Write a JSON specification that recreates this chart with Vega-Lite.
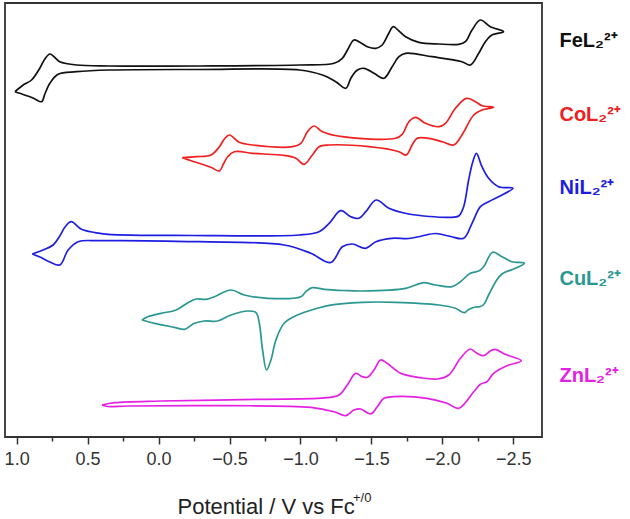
{
"$schema": "https://vega.github.io/schema/vega-lite/v6.json",
"width": 537, "height": 434,
"autosize": {"type": "none"},
"padding": {"left": 5, "top": 3, "right": 88, "bottom": 82},
"background": "white",
"config": {"view": {"stroke": "#333333", "strokeWidth": 1.8}, "font": "Liberation Sans"},
"datasets": {
"cv": [
{"complex":"Fe","potential":1.012,"current":345.3},{"complex":"Fe","potential":0.954,"current":352},{"complex":"Fe","potential":0.895,"current":357},{"complex":"Fe","potential":0.836,"current":369},{"complex":"Fe","potential":0.801,"current":378},{"complex":"Fe","potential":0.766,"current":383},{"complex":"Fe","potential":0.731,"current":379.5},{"complex":"Fe","potential":0.696,"current":375.3},{"complex":"Fe","potential":0.578,"current":372},{"complex":"Fe","potential":0.344,"current":371},{"complex":"Fe","potential":-0.288,"current":371},{"complex":"Fe","potential":-0.991,"current":372},{"complex":"Fe","potential":-1.237,"current":373.7},{"complex":"Fe","potential":-1.295,"current":378.7},{"complex":"Fe","potential":-1.335,"current":388},{"complex":"Fe","potential":-1.377,"current":397},{"complex":"Fe","potential":-1.427,"current":394},{"complex":"Fe","potential":-1.476,"current":390},{"complex":"Fe","potential":-1.530,"current":388.7},{"complex":"Fe","potential":-1.576,"current":392},{"complex":"Fe","potential":-1.616,"current":402},{"complex":"Fe","potential":-1.654,"current":410.3},{"complex":"Fe","potential":-1.694,"current":406},{"complex":"Fe","potential":-1.741,"current":400.3},{"complex":"Fe","potential":-1.834,"current":394.7},{"complex":"Fe","potential":-1.975,"current":393},{"complex":"Fe","potential":-2.115,"current":392.7},{"complex":"Fe","potential":-2.162,"current":395.3},{"complex":"Fe","potential":-2.209,"current":407},{"complex":"Fe","potential":-2.268,"current":417},{"complex":"Fe","potential":-2.338,"current":410.3},{"complex":"Fe","potential":-2.431,"current":405.3},
{"complex":"Fe","potential":-2.349,"current":402},{"complex":"Fe","potential":-2.303,"current":395.3},{"complex":"Fe","potential":-2.256,"current":383.7},{"complex":"Fe","potential":-2.197,"current":372},{"complex":"Fe","potential":-2.138,"current":375.3},{"complex":"Fe","potential":-1.928,"current":380.3},{"complex":"Fe","potential":-1.741,"current":383.7},{"complex":"Fe","potential":-1.694,"current":380.3},{"complex":"Fe","potential":-1.646,"current":370.3},{"complex":"Fe","potential":-1.588,"current":358.7},{"complex":"Fe","potential":-1.518,"current":363.7},{"complex":"Fe","potential":-1.448,"current":368.7},{"complex":"Fe","potential":-1.401,"current":367},{"complex":"Fe","potential":-1.356,"current":359},{"complex":"Fe","potential":-1.319,"current":348.7},{"complex":"Fe","potential":-1.249,"current":355.3},{"complex":"Fe","potential":-1.155,"current":362},{"complex":"Fe","potential":-0.991,"current":367},{"complex":"Fe","potential":-0.288,"current":367.5},{"complex":"Fe","potential":0.344,"current":367},{"complex":"Fe","potential":0.578,"current":365.3},{"complex":"Fe","potential":0.708,"current":362.7},{"complex":"Fe","potential":0.766,"current":353.7},{"complex":"Fe","potential":0.801,"current":343},{"complex":"Fe","potential":0.824,"current":335.3},{"complex":"Fe","potential":0.871,"current":338},{"complex":"Fe","potential":0.907,"current":340.3},{"complex":"Fe","potential":0.977,"current":343.7},{"complex":"Fe","potential":1.012,"current":345.3},
{"complex":"Co","potential":-0.167,"current":279.3},{"complex":"Co","potential":-0.265,"current":280.3},{"complex":"Co","potential":-0.370,"current":282},{"complex":"Co","potential":-0.429,"current":290.3},{"complex":"Co","potential":-0.464,"current":298},{"complex":"Co","potential":-0.499,"current":302},{"complex":"Co","potential":-0.569,"current":294.7},{"complex":"Co","potential":-0.663,"current":292},{"complex":"Co","potential":-0.944,"current":290.3},{"complex":"Co","potential":-1.003,"current":293.7},{"complex":"Co","potential":-1.049,"current":305.3},{"complex":"Co","potential":-1.096,"current":311},{"complex":"Co","potential":-1.155,"current":305.3},{"complex":"Co","potential":-1.295,"current":300.3},{"complex":"Co","potential":-1.670,"current":298.7},{"complex":"Co","potential":-1.717,"current":302.7},{"complex":"Co","potential":-1.764,"current":315.3},{"complex":"Co","potential":-1.811,"current":319.7},{"complex":"Co","potential":-1.881,"current":313.7},{"complex":"Co","potential":-1.975,"current":310.3},{"complex":"Co","potential":-2.022,"current":313.7},{"complex":"Co","potential":-2.092,"current":328.7},{"complex":"Co","potential":-2.169,"current":338.7},{"complex":"Co","potential":-2.233,"current":335.3},{"complex":"Co","potential":-2.279,"current":331.3},{"complex":"Co","potential":-2.361,"current":329.7},
{"complex":"Co","potential":-2.279,"current":327},{"complex":"Co","potential":-2.221,"current":322},{"complex":"Co","potential":-2.138,"current":302},{"complex":"Co","potential":-2.080,"current":292},{"complex":"Co","potential":-1.998,"current":295.3},{"complex":"Co","potential":-1.904,"current":298.7},{"complex":"Co","potential":-1.822,"current":298.7},{"complex":"Co","potential":-1.787,"current":292},{"complex":"Co","potential":-1.745,"current":282},{"complex":"Co","potential":-1.694,"current":285.3},{"complex":"Co","potential":-1.483,"current":290.3},{"complex":"Co","potential":-1.202,"current":292},{"complex":"Co","potential":-1.131,"current":290.3},{"complex":"Co","potential":-1.084,"current":282},{"complex":"Co","potential":-1.026,"current":272.7},{"complex":"Co","potential":-0.968,"current":278.7},{"complex":"Co","potential":-0.897,"current":281.3},{"complex":"Co","potential":-0.663,"current":283.7},{"complex":"Co","potential":-0.534,"current":285.3},{"complex":"Co","potential":-0.487,"current":280.3},{"complex":"Co","potential":-0.457,"current":273},{"complex":"Co","potential":-0.429,"current":266},{"complex":"Co","potential":-0.372,"current":269.5},{"complex":"Co","potential":-0.323,"current":272},{"complex":"Co","potential":-0.230,"current":276.3},{"complex":"Co","potential":-0.167,"current":279.3},
{"complex":"Ni","potential":0.890,"current":183},{"complex":"Ni","potential":0.813,"current":187},{"complex":"Ni","potential":0.743,"current":192},{"complex":"Ni","potential":0.696,"current":201},{"complex":"Ni","potential":0.654,"current":211},{"complex":"Ni","potential":0.615,"current":215.3},{"complex":"Ni","potential":0.543,"current":207.7},{"complex":"Ni","potential":0.450,"current":204.5},{"complex":"Ni","potential":0.356,"current":202.7},{"complex":"Ni","potential":-0.230,"current":201.5},{"complex":"Ni","potential":-0.991,"current":202},{"complex":"Ni","potential":-1.131,"current":205.3},{"complex":"Ni","potential":-1.202,"current":213.7},{"complex":"Ni","potential":-1.284,"current":226.3},{"complex":"Ni","potential":-1.354,"current":220.3},{"complex":"Ni","potential":-1.412,"current":218.7},{"complex":"Ni","potential":-1.460,"current":225.3},{"complex":"Ni","potential":-1.534,"current":237},{"complex":"Ni","potential":-1.623,"current":228.7},{"complex":"Ni","potential":-1.764,"current":223},{"complex":"Ni","potential":-2.045,"current":219.7},{"complex":"Ni","potential":-2.115,"current":221},{"complex":"Ni","potential":-2.150,"current":230.3},{"complex":"Ni","potential":-2.185,"current":257},{"complex":"Ni","potential":-2.214,"current":275},{"complex":"Ni","potential":-2.240,"current":283.7},{"complex":"Ni","potential":-2.279,"current":270.3},{"complex":"Ni","potential":-2.326,"current":258.7},{"complex":"Ni","potential":-2.396,"current":250.3},{"complex":"Ni","potential":-2.497,"current":248.7},
{"complex":"Ni","potential":-2.420,"current":242},{"complex":"Ni","potential":-2.326,"current":235.3},{"complex":"Ni","potential":-2.268,"current":230.3},{"complex":"Ni","potential":-2.209,"current":213.7},{"complex":"Ni","potential":-2.150,"current":198.7},{"complex":"Ni","potential":-2.059,"current":200.5},{"complex":"Ni","potential":-1.954,"current":203.5},{"complex":"Ni","potential":-1.855,"current":201},{"complex":"Ni","potential":-1.764,"current":198.5},{"complex":"Ni","potential":-1.644,"current":198.7},{"complex":"Ni","potential":-1.532,"current":195.3},{"complex":"Ni","potential":-1.460,"current":188.7},{"complex":"Ni","potential":-1.365,"current":193},{"complex":"Ni","potential":-1.295,"current":190.3},{"complex":"Ni","potential":-1.214,"current":174.5},{"complex":"Ni","potential":-1.073,"current":183.7},{"complex":"Ni","potential":-0.885,"current":192},{"complex":"Ni","potential":-0.288,"current":195.3},{"complex":"Ni","potential":0.415,"current":196.3},{"complex":"Ni","potential":0.567,"current":195.3},{"complex":"Ni","potential":0.637,"current":187},{"complex":"Ni","potential":0.696,"current":172},{"complex":"Ni","potential":0.766,"current":175},{"complex":"Ni","potential":0.836,"current":180},{"complex":"Ni","potential":0.890,"current":183},
{"complex":"Cu","potential":0.117,"current":117},{"complex":"Cu","potential":0.075,"current":120.3},{"complex":"Cu","potential":-0.019,"current":123.7},{"complex":"Cu","potential":-0.124,"current":127},{"complex":"Cu","potential":-0.206,"current":134.3},{"complex":"Cu","potential":-0.265,"current":138},{"complex":"Cu","potential":-0.335,"current":137.7},{"complex":"Cu","potential":-0.394,"current":140.3},{"complex":"Cu","potential":-0.511,"current":147},{"complex":"Cu","potential":-0.604,"current":142},{"complex":"Cu","potential":-0.768,"current":138.7},{"complex":"Cu","potential":-1.003,"current":140.3},{"complex":"Cu","potential":-1.038,"current":145.3},{"complex":"Cu","potential":-1.084,"current":149.3},{"complex":"Cu","potential":-1.167,"current":147.7},{"complex":"Cu","potential":-1.307,"current":146.5},{"complex":"Cu","potential":-1.436,"current":146},{"complex":"Cu","potential":-1.741,"current":148.7},{"complex":"Cu","potential":-1.811,"current":152},{"complex":"Cu","potential":-1.869,"current":154.3},{"complex":"Cu","potential":-1.951,"current":152},{"complex":"Cu","potential":-2.068,"current":150.3},{"complex":"Cu","potential":-2.127,"current":155.3},{"complex":"Cu","potential":-2.197,"current":163.7},{"complex":"Cu","potential":-2.256,"current":166},{"complex":"Cu","potential":-2.291,"current":170.3},{"complex":"Cu","potential":-2.354,"current":184.7},{"complex":"Cu","potential":-2.420,"current":180.3},{"complex":"Cu","potential":-2.490,"current":175.3},{"complex":"Cu","potential":-2.579,"current":173.7},
{"complex":"Cu","potential":-2.514,"current":168.7},{"complex":"Cu","potential":-2.420,"current":163},{"complex":"Cu","potential":-2.383,"current":157},{"complex":"Cu","potential":-2.326,"current":142},{"complex":"Cu","potential":-2.291,"current":132.5},{"complex":"Cu","potential":-2.262,"current":130.3},{"complex":"Cu","potential":-2.233,"current":130},{"complex":"Cu","potential":-2.185,"current":127.5},{"complex":"Cu","potential":-2.155,"current":124.3},{"complex":"Cu","potential":-2.092,"current":128.7},{"complex":"Cu","potential":-1.975,"current":132},{"complex":"Cu","potential":-1.670,"current":134.7},{"complex":"Cu","potential":-1.436,"current":134.7},{"complex":"Cu","potential":-1.202,"current":131.7},{"complex":"Cu","potential":-1.119,"current":128.7},{"complex":"Cu","potential":-0.979,"current":122},{"complex":"Cu","potential":-0.885,"current":113.7},{"complex":"Cu","potential":-0.827,"current":97},{"complex":"Cu","potential":-0.792,"current":77},{"complex":"Cu","potential":-0.761,"current":67},{"complex":"Cu","potential":-0.733,"current":87},{"complex":"Cu","potential":-0.710,"current":113.7},{"complex":"Cu","potential":-0.687,"current":124.3},{"complex":"Cu","potential":-0.628,"current":126},{"complex":"Cu","potential":-0.511,"current":122},{"complex":"Cu","potential":-0.417,"current":116},{"complex":"Cu","potential":-0.323,"current":116},{"complex":"Cu","potential":-0.253,"current":113.7},{"complex":"Cu","potential":-0.183,"current":107.7},{"complex":"Cu","potential":-0.112,"current":109.7},{"complex":"Cu","potential":0.028,"current":113.7},{"complex":"Cu","potential":0.117,"current":117},
{"complex":"Zn","potential":0.398,"current":32},{"complex":"Zn","potential":0.309,"current":34.3},{"complex":"Zn","potential":-0.019,"current":36},{"complex":"Zn","potential":-0.722,"current":37.7},{"complex":"Zn","potential":-1.190,"current":39.3},{"complex":"Zn","potential":-1.272,"current":42},{"complex":"Zn","potential":-1.330,"current":52},{"complex":"Zn","potential":-1.389,"current":63.7},{"complex":"Zn","potential":-1.436,"current":60.3},{"complex":"Zn","potential":-1.471,"current":59.7},{"complex":"Zn","potential":-1.518,"current":67},{"complex":"Zn","potential":-1.565,"current":77},{"complex":"Zn","potential":-1.611,"current":73.7},{"complex":"Zn","potential":-1.706,"current":63.7},{"complex":"Zn","potential":-1.846,"current":59.3},{"complex":"Zn","potential":-1.963,"current":58},{"complex":"Zn","potential":-2.045,"current":62},{"complex":"Zn","potential":-2.127,"current":78.7},{"complex":"Zn","potential":-2.197,"current":88},{"complex":"Zn","potential":-2.244,"current":83.7},{"complex":"Zn","potential":-2.291,"current":81.3},{"complex":"Zn","potential":-2.338,"current":86},{"complex":"Zn","potential":-2.373,"current":87.7},{"complex":"Zn","potential":-2.443,"current":82.7},{"complex":"Zn","potential":-2.556,"current":76.3},
{"complex":"Zn","potential":-2.455,"current":71.3},{"complex":"Zn","potential":-2.361,"current":63.7},{"complex":"Zn","potential":-2.314,"current":55.3},{"complex":"Zn","potential":-2.268,"current":52.7},{"complex":"Zn","potential":-2.221,"current":45.3},{"complex":"Zn","potential":-2.115,"current":28.7},{"complex":"Zn","potential":-2.033,"current":33.7},{"complex":"Zn","potential":-1.892,"current":38.7},{"complex":"Zn","potential":-1.658,"current":40.3},{"complex":"Zn","potential":-1.588,"current":38.7},{"complex":"Zn","potential":-1.541,"current":30.3},{"complex":"Zn","potential":-1.495,"current":23},{"complex":"Zn","potential":-1.424,"current":28},{"complex":"Zn","potential":-1.377,"current":27},{"complex":"Zn","potential":-1.319,"current":21.3},{"complex":"Zn","potential":-1.237,"current":25.3},{"complex":"Zn","potential":-1.073,"current":29.7},{"complex":"Zn","potential":-0.487,"current":31.3},{"complex":"Zn","potential":0.216,"current":31},{"complex":"Zn","potential":0.358,"current":30.5},{"complex":"Zn","potential":0.398,"current":32}
],
"labels": [
{"complex":"Fe","label":"FeL₂²⁺","potential":-2.825,"current":390},
{"complex":"Co","label":"CoL₂²⁺","potential":-2.825,"current":316},
{"complex":"Ni","label":"NiL₂²⁺","potential":-2.825,"current":243},
{"complex":"Cu","label":"CuL₂²⁺","potential":-2.825,"current":152},
{"complex":"Zn","label":"ZnL₂²⁺","potential":-2.825,"current":55}
],
"sup": [{"text":"+/0","potential":-1.370,"current":-65}]
},
"layer": [
{"data": {"name": "cv"},
 "mark": {"type": "line", "strokeWidth": 1.7, "strokeJoin": "round", "interpolate": "catmull-rom"},
 "encoding": {
  "x": {"field": "potential", "type": "quantitative",
        "scale": {"domain": [1.082, -2.702], "nice": false, "zero": false},
        "axis": {"orient": "bottom", "values": [1, 0.5, 0, -0.5, -1, -1.5, -2, -2.5], "format": ".1f",
                 "labelFontSize": 18, "labelColor": "#333333", "labelPadding": 6, "labelFont": "Liberation Sans",
                 "labelFlush": false, "labelOverlap": false,
                 "tickSize": 7, "tickWidth": 1.5, "tickColor": "#333333", "domain": false, "grid": false,
                 "title": "Potential / V vs Fc", "titleFont": "Liberation Sans", "titleFontSize": 22, "titleFontWeight": "normal",
                 "titleColor": "#222222", "titleX": 172, "titleY": 76, "titleAlign": "left", "titleAnchor": null, "titleBaseline": "alphabetic"}},
  "y": {"field": "current", "type": "quantitative", "scale": {"domain": [0, 434], "nice": false, "zero": false}, "axis": null},
  "color": {"field": "complex", "type": "nominal",
            "scale": {"domain": ["Fe", "Co", "Ni", "Cu", "Zn"], "range": ["#111111", "#ee2020", "#1e1ee0", "#2b9792", "#e520e5"]},
            "legend": null},
  "order": {"value": null}
 }},
{"data": {"name": "labels"},
 "mark": {"type": "text", "fontSize": 20, "fontWeight": "bold", "align": "left", "baseline": "alphabetic", "font": "Liberation Sans"},
 "encoding": {
  "x": {"field": "potential", "type": "quantitative",
        "axis": {"orient": "bottom", "values": [0.75, 0.25, -0.25, -0.75, -1.25, -1.75, -2.25], "labels": false,
                 "tickSize": 4, "tickWidth": 1.5, "tickColor": "#333333", "domain": false, "grid": false, "title": null}},
  "y": {"field": "current", "type": "quantitative"},
  "text": {"field": "label"},
  "color": {"field": "complex", "type": "nominal", "legend": null}
 }},
{"data": {"name": "sup"},
 "mark": {"type": "text", "fontSize": 13, "align": "left", "baseline": "alphabetic", "color": "#222222", "font": "Liberation Sans"},
 "encoding": {
  "x": {"field": "potential", "type": "quantitative", "axis": null},
  "y": {"field": "current", "type": "quantitative"},
  "text": {"field": "text"}
 }}
],
"resolve": {"axis": {"x": "independent"}}
}
